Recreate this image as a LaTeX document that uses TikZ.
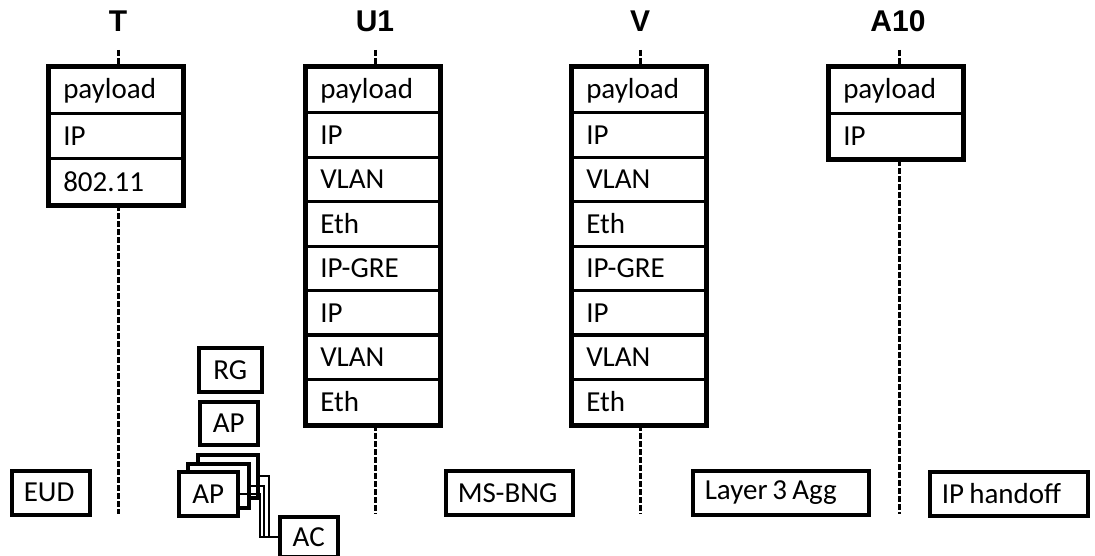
\documentclass[tikz,border=0pt]{standalone}
\usepackage{fontspec}
\setmainfont[WordSpace=0.8]{Carlito}
\newfontfamily\headfont{Liberation Sans}
\usetikzlibrary{positioning,calc}

\tikzset{
  cell/.style={draw, line width=2.5pt, anchor=north west, minimum height=45pt,
    text width=105pt, inner xsep=14pt, inner ysep=0pt, align=flush left,
    font=\fontsize{29}{31}\selectfont},
  frame/.style={line width=5pt},
  dline/.style={line width=3pt, dash pattern=on 6pt off 2pt},
  box/.style={draw, line width=3.5pt, fill=white, anchor=north west, inner ysep=0pt,
    inner xsep=12pt, align=flush left, font=\fontsize{29}{31}\selectfont},
  small/.style={draw, line width=3.5pt, fill=white, anchor=north west, inner sep=0pt,
    font=\fontsize{29}{31}\selectfont},
  link/.style={line width=2pt},
  title/.style={font=\headfont\bfseries\fontsize{30}{32}\selectfont, inner sep=0pt}
}

\begin{document}
\begin{tikzpicture}[x=1pt,y=-1pt]
    \useasboundingbox (0,0) rectangle (1095,556);

    % interface names
    \node[title] (T) at (118,21) {T};
    \node[title] (U) at (375,21) {U1};
    \node[title] (V) at (640,21) {V};
    \node[title] (A) at (898,21) {A10};

    % protocol stacks
    \foreach \lbl [count=\i] in {payload,IP,802.11}
        \node[cell] (t\i) at (48,{67+45.3*(\i-1)}) {\lbl};
    \foreach \lbl [count=\i] in {payload,IP,VLAN,Eth,IP-GRE,IP,VLAN,Eth}
        \node[cell] (u\i) at (305,{67+44.4*(\i-1)}) {\lbl};
    \foreach \lbl [count=\i] in {payload,IP,VLAN,Eth,IP-GRE,IP,VLAN,Eth}
        \node[cell] (v\i) at (571,{67+44.4*(\i-1)}) {\lbl};
    \foreach \lbl [count=\i] in {payload,IP}
        \node[cell] (a\i) at (828,{67+45.3*(\i-1)}) {\lbl};

    \draw[frame] (t1.north west) rectangle (t3.south east);
    \draw[frame] (u1.north west) rectangle (u8.south east);
    \draw[frame] (v1.north west) rectangle (v8.south east);
    \draw[frame] (a1.north west) rectangle (a2.south east);

    % reference points
    \coordinate (Ttop) at (118,50);  \coordinate (Tbot) at (118,514);
    \coordinate (Utop) at (375,50);  \coordinate (Ubot) at (375,514);
    \coordinate (Vtop) at (640,50);  \coordinate (Vbot) at (640,514);
    \coordinate (Atop) at (899,50);  \coordinate (Abot) at (899,514);

    \draw[dline] (Ttop) -- (Ttop |- t1.north);
    \draw[dline] (t3.south -| Tbot) -- (Tbot);
    \draw[dline] (Utop) -- (Utop |- u1.north);
    \draw[dline] (u8.south -| Ubot) -- (Ubot);
    \draw[dline] (Vtop) -- (Vtop |- v1.north);
    \draw[dline] (v8.south -| Vbot) -- (Vbot);
    \draw[dline] (Atop) -- (Atop |- a1.north);
    \draw[dline] (a2.south -| Abot) -- (Abot);

    % network elements
    \node[box, text width=54pt, minimum height=44pt] (eud) at (10,469) {EUD};
    \node[box, text width=103pt, minimum height=44pt] (msbng) at (444,469) {MS-BNG};
    \node[box, text width=152pt, minimum height=44pt] (agg) at (691,469) {Layer\,3 Agg};
    \node[box, text width=134pt, minimum height=44pt] (handoff) at (928,470) {IP handoff};

    \node[small, minimum width=63pt, minimum height=44pt] (rg) at (197,346) {RG};
    \node[small, minimum width=58pt, minimum height=43pt] (ap) at (198,400) {AP};

    \node[small, minimum width=60pt, minimum height=43pt] (ap3) at (196,453) {};
    \node[small, minimum width=61pt, minimum height=44pt] (ap2) at (186,462) {};
    \node[small, minimum width=59pt, minimum height=44pt] (ap1) at (177,470) {AP};
    \node[small, minimum width=58pt, minimum height=40pt] (ac) at (278,515) {AC};

    \draw[link] (ap3.east) -- ++(9,0) |- (ac.west);
    \draw[link] (ap2.east) -- ++(13,0) |- (ac.west);
    \draw[link] (ap1.east) -- ++(20,0) |- (ac.west);
\end{tikzpicture}
\end{document}
